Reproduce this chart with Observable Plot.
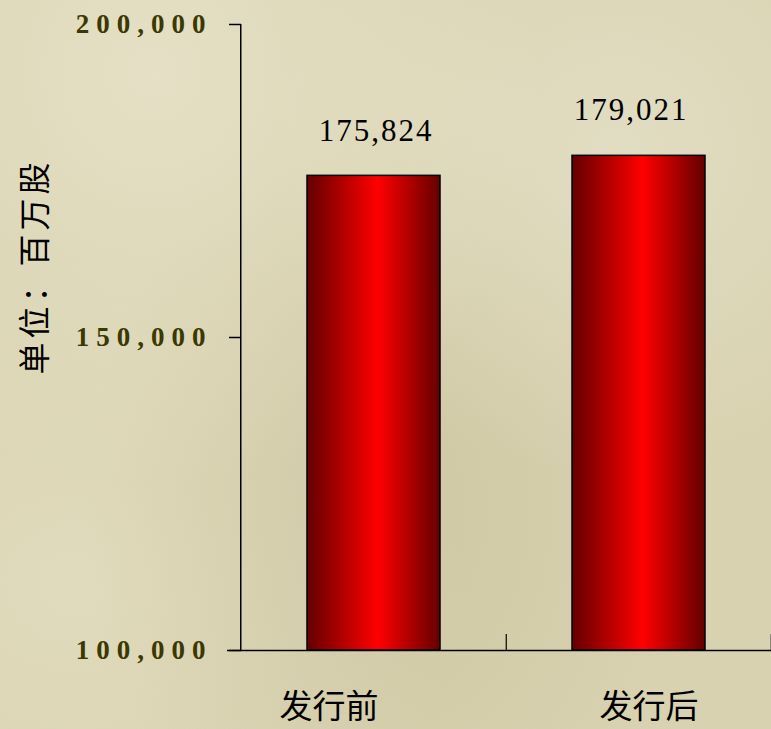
<!DOCTYPE html>
<html>
<head>
<meta charset="utf-8">
<script src="https://cdn.jsdelivr.net/npm/d3@7"></script>
<script src="https://cdn.jsdelivr.net/npm/@observablehq/plot@0.6"></script>
<style>
  html, body { margin: 0; padding: 0; }
  body {
    width: 771px; height: 729px; overflow: hidden;
    background-color: #d8d2b0;
    background-image:
      radial-gradient(ellipse at 20% 10%, rgba(240,236,215,0.55), rgba(240,236,215,0) 45%),
      radial-gradient(ellipse at 80% 20%, rgba(235,232,212,0.5), rgba(235,232,212,0) 40%),
      radial-gradient(ellipse at 50% 70%, rgba(190,180,140,0.35), rgba(190,180,140,0) 55%),
      radial-gradient(ellipse at 10% 80%, rgba(235,230,205,0.45), rgba(235,230,205,0) 40%);
  }
  #chart svg { display: block; background: transparent; }
</style>
</head>
<body>
<div id="chart"></div>
<script>
const categories = ["发行前", "发行后"];
const values = [175824, 179021];
const yTicks = [100000, 150000, 200000];
const yLabel = "单位：百万股";

const data = categories.map((c, i) => ({category: c, value: values[i]}));
const base = yTicks[0];
const fmt = d3.format(",");

const chart = Plot.plot({
  width: 771,
  height: 729,
  marginLeft: 241,
  marginRight: 0,
  marginTop: 24,
  marginBottom: 79,
  style: {background: "transparent", overflow: "visible"},
  x: {domain: categories, paddingInner: 0.5, paddingOuter: 0.25, align: 0.5},
  y: {domain: [yTicks[0], yTicks[2]]},
  marks: [
    Plot.axisY({
      ticks: yTicks, tickFormat: fmt, tickSize: 12, tickPadding: 17,
      label: null, fill: "#3b3800", fontSize: 27, fontWeight: "bold",
      fontFamily: "Liberation Serif, serif", stroke: "black", strokeWidth: 1.5
    }),
    Plot.axisX({ticks: [], label: null}),
    Plot.rectY(data, {
      x: "category", y1: base, y2: "value",
      fill: "url(#barGrad)", stroke: "black", strokeWidth: 1.5
    }),
    Plot.ruleY([base], {stroke: "black", strokeWidth: 1.5, insetLeft: -14}),
    Plot.text(data.filter((d, i) => i === 0), {
      x: "category", y: "value", text: d => fmt(d.value), dy: -45, dx: 2,
      fontSize: 31, fontFamily: "Liberation Serif, serif", fill: "black",
      className: "vlabel"
    }),
    Plot.text(data.filter((d, i) => i === 1), {
      x: "category", y: "value", text: d => fmt(d.value), dy: -46, dx: -8,
      fontSize: 31, fontFamily: "Liberation Serif, serif", fill: "black",
      className: "vlabel"
    }),
    Plot.text(data.filter((d, i) => i === 0), {
      x: "category", y: () => base, text: "category", dy: 57, dx: -45,
      fontSize: 33, fontFamily: "Noto Sans CJK SC", fill: "black"
    }),
    Plot.text(data.filter((d, i) => i === 1), {
      x: "category", y: () => base, text: "category", dy: 57, dx: 10,
      fontSize: 33, fontFamily: "Noto Sans CJK SC", fill: "black"
    }),
    Plot.text([yLabel], {
      frameAnchor: "left", dx: -206, dy: 37, rotate: -90, text: d => d,
      fontSize: 32, fontFamily: "Noto Sans CJK SC", fill: "black",
      className: "ylab"
    })
  ]
});

const svg = d3.select(chart);
// gradient for the bars
const defs = svg.insert("defs", ":first-child");
const grad = defs.append("linearGradient")
  .attr("id", "barGrad").attr("x1", "0%").attr("x2", "100%").attr("y1", "0%").attr("y2", "0%");
grad.append("stop").attr("offset", "0%").attr("stop-color", "#640000");
grad.append("stop").attr("offset", "53%").attr("stop-color", "#ff0000");
grad.append("stop").attr("offset", "100%").attr("stop-color", "#640000");

// letter spacing for tick and value labels
svg.selectAll("g[aria-label='y-axis tick label'] text").style("letter-spacing", "7px");
svg.selectAll(".vlabel text").style("letter-spacing", "2px");
svg.selectAll(".ylab text").style("letter-spacing", "4px");

// y axis line and category separator ticks, via the plot's scales
// (scale.apply on a band scale returns the band's start)
const xs = chart.scale("x");
const ys = chart.scale("y");
const y0 = ys.apply(base), yTop = ys.apply(yTicks[2]);
const xLeft = xs.apply(categories[0]) - xs.step * xs.paddingOuter;
svg.append("line")
  .attr("x1", xLeft).attr("x2", xLeft).attr("y1", yTop).attr("y2", y0)
  .attr("stroke", "black").attr("stroke-width", 1.5);
categories.forEach(c => {
  const xr = xs.apply(c) + xs.bandwidth + xs.step * xs.paddingInner / 2;
  svg.append("line")
    .attr("x1", xr).attr("x2", xr).attr("y1", y0 - 16).attr("y2", y0)
    .attr("stroke", "black").attr("stroke-width", 1.2);
});

document.getElementById("chart").appendChild(chart);
</script>
</body>
</html>
